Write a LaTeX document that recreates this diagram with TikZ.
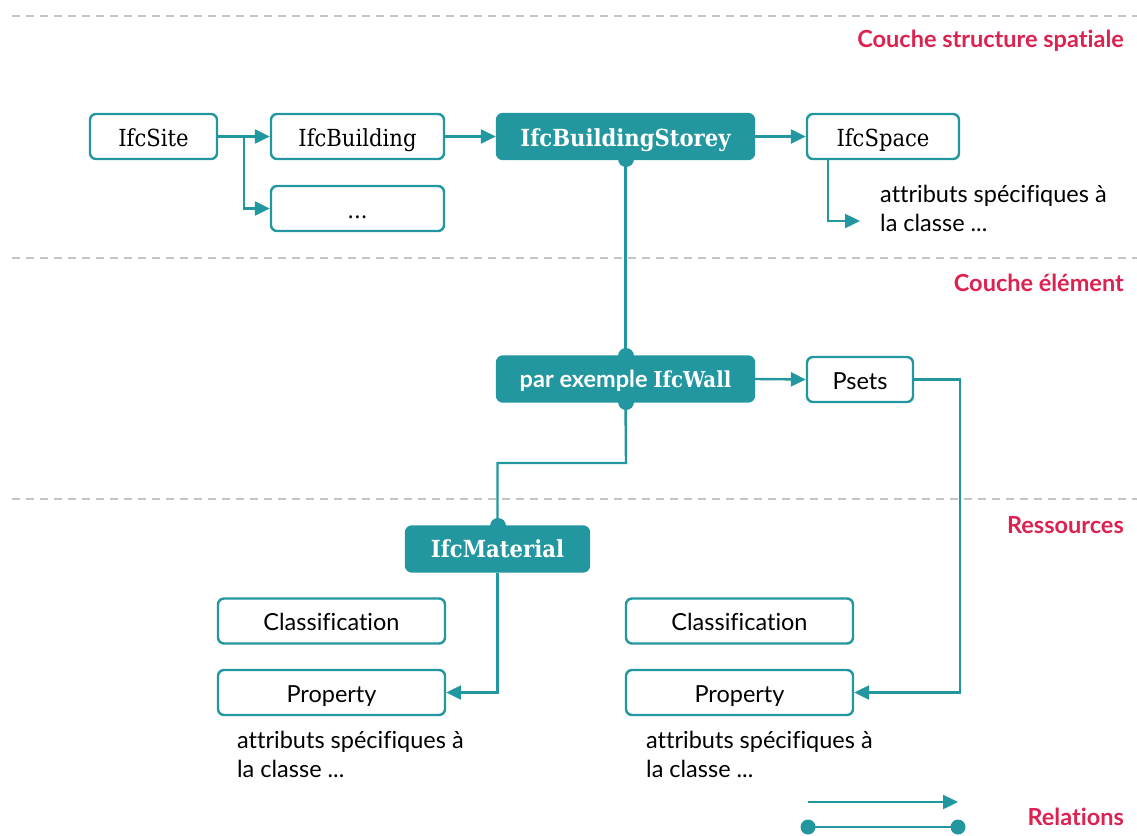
\documentclass[tikz,border=0pt]{standalone}
\usepackage{fontspec}
\setmainfont{Lato}[Ligatures={NoCommon}]
\newfontfamily\ifcserif{DejaVu Serif Condensed}
\usetikzlibrary{arrows.meta}
\definecolor{ifcteal}{HTML}{2397A0}
\definecolor{layerred}{HTML}{DC2250}
\definecolor{layergray}{HTML}{C4C4C4}
\tikzset{
  classbox/.style={draw=ifcteal, line width=2.4pt, rounded corners=6pt, fill=white,
    minimum height=45pt, inner sep=0pt, text=black, text depth=0pt},
  classfill/.style={classbox, fill=ifcteal, text=white},
  serifname/.style={font=\ifcserif\fontsize{23.5}{26}\selectfont, text height=20pt},
  serifbold/.style={font=\ifcserif\bfseries\fontsize{23.5}{26}\selectfont, text height=20pt},
  sansname/.style={font=\fontsize{23.5}{26}\selectfont, text height=19pt},
  note/.style={font=\fontsize{23.5}{29}\selectfont, align=left, anchor=north west, inner sep=0pt},
  layer/.style={font=\bfseries\fontsize{23.5}{26}\selectfont, text=layerred, anchor=east, inner sep=0pt},
  divider/.style={draw=layergray, line width=2.2pt, dash pattern=on 8pt off 6pt},
  relarrow/.style={draw=ifcteal, line width=2.4pt, -{Triangle[length=15pt,width=14pt]}},
  relline/.style={draw=ifcteal, line width=2.4pt},
  joint/.style={fill=ifcteal},
}
\begin{document}
\begin{tikzpicture}[x=1pt,y=-1pt]
\useasboundingbox (0,0) rectangle (1137,835);

% layer separators and titles
\draw[divider] (12,16) -- (1137,16);
\draw[divider] (12,258) -- (1137,258);
\draw[divider] (12,499) -- (1137,499);
\node[layer] (lspatial) at (1124,41) {Couche structure spatiale};
\node[layer] (lelement) at (1124,283) {Couche élément};
\node[layer] (lres) at (1124,525) {Ressources};
\node[layer] (lrel) at (1124,817) {Relations};

% joints for the aggregation links
\fill[joint] (626,159) circle (8pt);
\fill[joint] (626,356) circle (8pt);
\fill[joint] (626,402) circle (8pt);
\fill[joint] (498,526) circle (8pt);

% spatial structure
\node[classbox, serifname, minimum width=127pt] (site) at (153.5,136.5) {IfcSite};
\node[classbox, serifname, minimum width=173pt] (building) at (357.5,136.5) {IfcBuilding};
\node[classbox, serifname, minimum width=173pt] (other) at (357.5,208.5) {...};
\node[classfill, serifbold, minimum width=257pt] (storey) at (625.5,136.5) {IfcBuildingStorey};
\node[classbox, serifname, minimum width=152pt] (space) at (883,136.5) {IfcSpace};
\node[note] (spacenote) at (880,185) {attributs spécifiques à\\la classe ...};

% elements
\node[classfill, minimum width=257pt, text height=16pt] (wall) at (625.5,379)
  {\bfseries\fontsize{23.5}{26}\selectfont par exemple {\ifcserif\fontsize{22}{24}\selectfont IfcWall}};
\node[classbox, sansname, minimum width=106pt] (psets) at (860,379.5) {Psets};

% resources
\node[classfill, serifbold, minimum width=183pt, text height=17pt] (material) at (497.5,549) {IfcMaterial};
\node[classbox, sansname, minimum width=227pt] (classA) at (331.5,621) {Classification};
\node[classbox, sansname, minimum width=227pt] (propA) at (331.5,692.5) {Property};
\node[note] (noteA) at (237,730.5) {attributs spécifiques à\\la classe ...};
\node[classbox, sansname, minimum width=227pt] (classB) at (739.5,621) {Classification};
\node[classbox, sansname, minimum width=227pt] (propB) at (739.5,692.5) {Property};
\node[note] (noteB) at (646,730.5) {attributs spécifiques à\\la classe ...};

% relations
\coordinate (sitefork) at (244,136.5);
\coordinate (spacetip) at (860,221);
\coordinate (wallbend) at (626,463);
\coordinate (psetsbend) at (960,379.5);

\draw[relarrow] (site.east) -- (building.west);
\draw[relline] (site.east) -- (sitefork);
\draw[relarrow] (sitefork) |- (other.west);
\draw[relarrow] (building.east) -- (storey.west);
\draw[relarrow] (storey.east) -- (space.west);
\draw[relarrow] ([xshift=22pt]space.south west) |- (spacetip);
\draw[relline] (storey.south) -- (wall.north);
\draw[relarrow] (wall.east) -- (psets.west);
\draw[relline] (wall.south) -- (wallbend) -| (material.north);
\draw[relarrow] (material.south) |- (propA.east);
\draw[relarrow] (psets.east) -- (psetsbend) |- (propB.east);

% legend
\coordinate (legA1) at (808,802);
\coordinate (legA2) at (958,802);
\coordinate (legB1) at (808,827);
\coordinate (legB2) at (958,827);
\draw[relarrow] (legA1) -- (legA2);
\draw[relline] (legB1) -- (legB2);
\fill[joint] (legB1) circle (7.5pt);
\fill[joint] (legB2) circle (7.5pt);
\end{tikzpicture}
\end{document}
